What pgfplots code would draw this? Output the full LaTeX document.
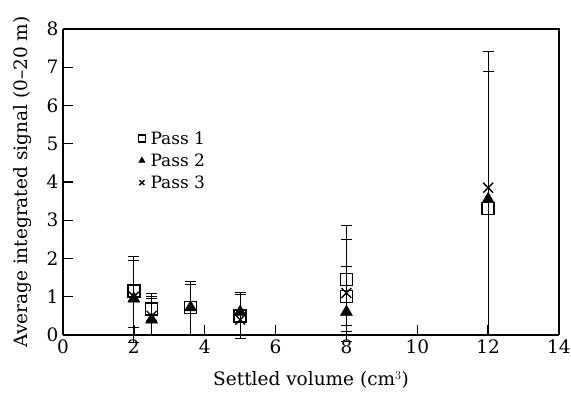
\documentclass[border=0pt]{standalone}
\usepackage{pgfplots}
\pgfplotsset{compat=1.18}
\usepackage{fontspec}
\setmainfont{DejaVu Serif}
\begin{document}
\begin{tikzpicture}[font=\fontsize{18.5}{22}\selectfont]
\begin{axis}[
  scale only axis, width=496pt, height=306pt,
  xmin=0, xmax=14, ymin=0, ymax=8,
  xtick={0,2,...,14}, ytick={0,1,...,8},
  axis x line*=bottom, axis y line*=left,
  axis line style={line width=1.8pt, -},
  tick align=inside, major tick length=10pt,
  tick style={line width=1.4pt, black},
  clip=false,
  /pgf/number format/assume math mode=true,
  xticklabel style={yshift=-1pt},
  yticklabel style={xshift=-1pt},
  xlabel={Settled volume (cm$^3$)},
  ylabel={Average integrated signal (0--20 m)},
  xlabel style={at={(axis description cs:0.5,-0.147)}, anchor=center},
  ylabel style={at={(axis description cs:-0.0823,0.5)}, anchor=center},
  legend style={draw=none, fill=none, at={(axis cs:2.12,5.38)}, anchor=north west,
    font=\fontsize{17}{20}\selectfont, row sep=4pt, inner sep=0pt,
    nodes={inner xsep=5pt}},
  legend cell align=left,
  legend image code/.code={\draw[#1] plot coordinates {(0cm,0cm)};},
  legend image post style={mark size=3.6pt},
  error bars/y dir=both, error bars/y explicit,
  error bars/error bar style={line width=1pt, black},
  error bars/error mark options={rotate=90, black, mark size=5.5pt, line width=1pt},
]
\addplot[only marks, mark=square, mark size=6pt, line width=1.3pt, mark options={fill=white}]
  table[x=x, y=y, y error plus=ep, y error minus=em] {
  x    y     ep    em
  2    1.15  0.90  0.95
  2.5  0.68  0.40  0.68
  3.6  0.72  0.68  0.72
  5    0.50  0.62  0.60
  8    1.45  1.40  1.20
  8    1.00  0.80  1.18
  12   3.30  3.60  3.30
};
\addlegendentry{Pass 1}
\addplot[only marks, mark=triangle*, mark size=7pt, black]
  table[x=x, y=y, y error plus=ep, y error minus=em] {
  x    y     ep    em
  2    0.95  1.00  0.95
  2.5  0.40  0.55  0.40
  3.6  0.72  0.60  0.72
  5    0.60  0.45  0.60
  8    0.60  0.70  0.60
  12   3.55  3.35  3.55
};
\addlegendentry{Pass 2}
\addplot[only marks, mark=x, mark size=7pt, line width=1.3pt, black]
  table[x=x, y=y, y error plus=ep, y error minus=em] {
  x    y     ep    em
  2    1.00  1.05  1.20
  2.5  0.50  0.50  0.50
  5    0.40  0.70  0.50
  8    1.10  1.40  1.00
  12   3.85  3.55  3.85
};
\addlegendentry{Pass 3}
\draw[line width=1.1pt] (rel axis cs:0,1) -- (rel axis cs:1,1) -- (rel axis cs:1,0);
\end{axis}
\pgfresetboundingbox
\path ([shift={(-63pt,-62pt)}]current axis.south west) rectangle ([shift={(12pt,29pt)}]current axis.north east);
\end{tikzpicture}
\end{document}
